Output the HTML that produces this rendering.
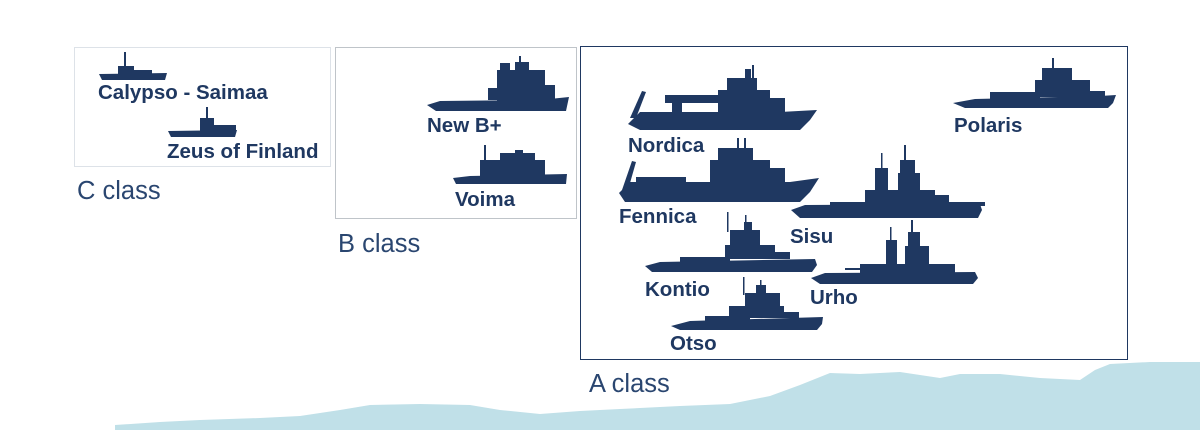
<!DOCTYPE html>
<html><head><meta charset="utf-8"><style>
html,body{margin:0;padding:0;background:#fff;}
svg{display:block;}
.l{font-family:"Liberation Sans",sans-serif;font-weight:bold;fill:#1f3861;font-size:20.5px;}
.c{font-family:"Liberation Sans",sans-serif;fill:#2a4670;font-size:25.5px;}
.s{fill:#1f3861;}
</style></head><body>
<svg width="1200" height="430" viewBox="0 0 1200 430" xmlns="http://www.w3.org/2000/svg">
<polygon fill="#c0e0e8" points="115,430 115,425 160,422 200,420 260,418 300,416 340,410 370,405 420,404 470,405 500,410 540,414 580,411 620,409 680,406 730,404 770,396 800,385 830,373 860,374 900,372 940,378 960,374 1000,374 1040,378 1080,380 1095,370 1110,364 1150,362 1200,362 1200,430"/>
<rect x="74.5" y="47.5" width="256" height="119" fill="none" stroke="#dde2e8"/>
<rect x="335.5" y="47.5" width="241" height="171" fill="none" stroke="#bfc4c9"/>
<rect x="580.5" y="46.5" width="547" height="313" fill="none" stroke="#1f3861"/>
<g class="s">
<polygon points="99,74 167,73 165,80 102,80"/><rect x="118" y="66" width="16" height="8"/><rect x="124" y="52" width="2" height="14"/><rect x="134" y="70" width="18" height="4"/>
<polygon points="168,131 237,130 235,137 171,137"/><rect x="200" y="118" width="14" height="13"/><rect x="206" y="107" width="2" height="12"/><rect x="214" y="125" width="22" height="6"/>
<polygon points="427,105 440,101 540,100 569,97 566,111 436,111"/><rect x="497" y="70" width="48" height="31"/><rect x="545" y="85" width="10" height="15"/><rect x="500" y="63" width="10" height="8"/><rect x="515" y="62" width="14" height="9"/><rect x="519" y="56" width="2" height="8"/><rect x="488" y="88" width="10" height="12"/>
<polygon points="453,178 470,176 567,174 566,184 456,184"/><rect x="480" y="160" width="65" height="16"/><rect x="500" y="153" width="35" height="8"/><rect x="484" y="145" width="2" height="16"/><rect x="515" y="150" width="8" height="4"/>
<polygon points="628,124 640,112 780,112 817,110 810,120 800,130 640,130"/><polygon points="630,118 642,91 646,92 636,118"/><rect x="665" y="95" width="55" height="8"/><rect x="672" y="103" width="10" height="10"/><rect x="718" y="90" width="52" height="22"/><rect x="727" y="78" width="30" height="13"/><rect x="745" y="69" width="6" height="10"/><rect x="752" y="65" width="2" height="14"/><rect x="770" y="98" width="15" height="14"/>
<polygon points="619,193 630,182 790,182 819,178 810,192 800,202 625,202"/><polygon points="622,190 632,161 636,162 628,190"/><rect x="636" y="177" width="50" height="5"/><rect x="710" y="160" width="60" height="22"/><rect x="718" y="148" width="35" height="13"/><rect x="737" y="138" width="2" height="12"/><rect x="744" y="138" width="2" height="12"/><rect x="770" y="168" width="15" height="14"/>
<polygon points="791,210 805,205 980,204 982,210 978,218 800,218"/><rect x="830" y="202" width="155" height="4"/><rect x="865" y="190" width="70" height="15"/><rect x="875" y="168" width="13" height="23"/><rect x="898" y="173" width="22" height="18"/><rect x="900" y="160" width="15" height="14"/><rect x="904" y="145" width="2" height="16"/><rect x="935" y="195" width="14" height="10"/><rect x="881" y="153" width="1.5" height="16"/>
<polygon points="645,266 660,262 815,259 817,265 812,272 652,272"/><rect x="680" y="257" width="50" height="5"/><rect x="725" y="245" width="50" height="14"/><rect x="730" y="230" width="30" height="16"/><rect x="744" y="222" width="8" height="10"/><rect x="727" y="212" width="1.5" height="20"/><rect x="745" y="215" width="1.5" height="8"/><rect x="775" y="252" width="15" height="7"/>
<polygon points="811,278 825,273 975,272 978,278 973,284 820,284"/><rect x="860" y="264" width="95" height="10"/><rect x="886" y="240" width="11" height="25"/><rect x="905" y="246" width="24" height="19"/><rect x="908" y="232" width="12" height="15"/><rect x="911" y="220" width="2" height="13"/><rect x="890" y="227" width="1.5" height="14"/><rect x="845" y="268" width="20" height="2"/>
<polygon points="671,326 690,321 823,317 822,324 817,330 680,330"/><rect x="705" y="316" width="45" height="6"/><rect x="729" y="306" width="55" height="12"/><rect x="745" y="293" width="35" height="14"/><rect x="756" y="285" width="10" height="10"/><rect x="743" y="277" width="1.5" height="18"/><rect x="760" y="280" width="1.5" height="6"/><rect x="784" y="312" width="15" height="6"/>
<polygon points="953,103 975,99 1100,96 1116,95 1113,103 1108,108 965,108"/><rect x="990" y="92" width="50" height="7"/><rect x="1035" y="80" width="55" height="17"/><rect x="1042" y="68" width="30" height="13"/><rect x="1052" y="58" width="2" height="11"/><rect x="1090" y="91" width="15" height="6"/>
</g>
<text class="l" x="98" y="99">Calypso - Saimaa</text>
<text class="l" x="167" y="158">Zeus of Finland</text>
<text class="l" x="427" y="132">New B+</text>
<text class="l" x="455" y="206">Voima</text>
<text class="l" x="628" y="152">Nordica</text>
<text class="l" x="619" y="223">Fennica</text>
<text class="l" x="790" y="243">Sisu</text>
<text class="l" x="645" y="296">Kontio</text>
<text class="l" x="810" y="304">Urho</text>
<text class="l" x="670" y="350">Otso</text>
<text class="l" x="954" y="132">Polaris</text>
<text class="c" x="77" y="199">C class</text>
<text class="c" x="338" y="252">B class</text>
<text class="c" x="589" y="392">A class</text>
</svg>
</body></html>
